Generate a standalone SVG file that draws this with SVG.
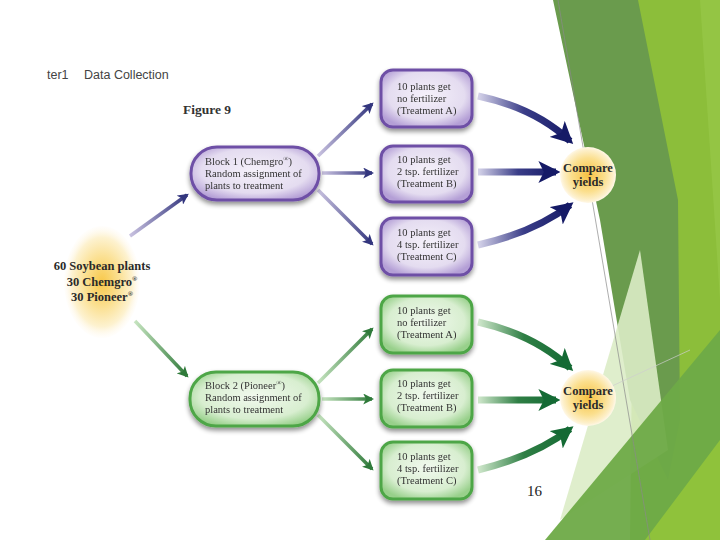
<svg xmlns="http://www.w3.org/2000/svg" width="720" height="540" viewBox="0 0 720 540">
<style>
.nt{font-family:"Liberation Serif","DejaVu Serif",serif;font-size:10.5px;fill:#333}
.bt{font-family:"Liberation Serif","DejaVu Serif",serif;font-size:12.5px;font-weight:bold;fill:#2a2a2a}
.ttl{font-family:"Liberation Sans","DejaVu Sans",sans-serif;font-size:12.5px;fill:#444}
.thinP{fill:none;stroke-width:3.5}
.thickP{fill:none;stroke-width:7}
.pb{fill:url(#gP);stroke:#6e4fa6;stroke-width:3}
.gb{fill:url(#gG);stroke:#4ea646;stroke-width:3}
</style>
<defs>
<radialGradient id="gP" cx="50%" cy="45%" r="60%">
<stop offset="0" stop-color="#f5f1fa"/><stop offset="0.7" stop-color="#e4dcf0"/><stop offset="1" stop-color="#b49fd6"/>
</radialGradient>
<radialGradient id="gG" cx="50%" cy="45%" r="60%">
<stop offset="0" stop-color="#f1f9ee"/><stop offset="0.7" stop-color="#d8eed0"/><stop offset="1" stop-color="#98d08b"/>
</radialGradient>
<radialGradient id="gY" cx="50%" cy="50%" r="50%">
<stop offset="0" stop-color="#f8c84a"/><stop offset="0.45" stop-color="#fbe092"/><stop offset="0.8" stop-color="#fdf2d0"/><stop offset="1" stop-color="#fffaf0" stop-opacity="0.2"/>
</radialGradient>
<radialGradient id="gC" cx="50%" cy="50%" r="50%">
<stop offset="0" stop-color="#f6c243"/><stop offset="0.6" stop-color="#fbdf8e"/><stop offset="0.9" stop-color="#fdf0cc"/><stop offset="1" stop-color="#fff8e8"/>
</radialGradient>
<filter id="sh" x="-20%" y="-20%" width="140%" height="150%">
<feGaussianBlur in="SourceAlpha" stdDeviation="2.5"/><feOffset dy="3" result="b"/>
<feComponentTransfer><feFuncA type="linear" slope="0.45"/></feComponentTransfer>
<feMerge><feMergeNode/><feMergeNode in="SourceGraphic"/></feMerge>
</filter>
<marker id="mP" viewBox="0 0 10 10" refX="8" refY="5" markerWidth="11" markerHeight="11" markerUnits="userSpaceOnUse" orient="auto"><path d="M0,0 L10,5 L0,10 L2.5,5 Z" fill="#33367e"/></marker>
<marker id="mG" viewBox="0 0 10 10" refX="8" refY="5" markerWidth="11" markerHeight="11" markerUnits="userSpaceOnUse" orient="auto"><path d="M0,0 L10,5 L0,10 L2.5,5 Z" fill="#2f7a3a"/></marker>
<marker id="MP" viewBox="0 0 10 10" refX="8" refY="5" markerWidth="22" markerHeight="22" markerUnits="userSpaceOnUse" orient="auto"><path d="M0,0 L10,5 L0,10 L2.5,5 Z" fill="#151a66"/></marker>
<marker id="MG" viewBox="0 0 10 10" refX="8" refY="5" markerWidth="22" markerHeight="22" markerUnits="userSpaceOnUse" orient="auto"><path d="M0,0 L10,5 L0,10 L2.5,5 Z" fill="#146a34"/></marker>
<linearGradient id="lP" x1="0" y1="0" x2="1" y2="0"><stop offset="0" stop-color="#c9c2e0"/><stop offset="1" stop-color="#33367e"/></linearGradient>
<linearGradient id="lG" x1="0" y1="0" x2="1" y2="0"><stop offset="0" stop-color="#c6e4c0"/><stop offset="1" stop-color="#2f7a3a"/></linearGradient>
<linearGradient id="lPh" gradientUnits="userSpaceOnUse" x1="322" y1="0" x2="372" y2="0"><stop offset="0" stop-color="#c9c2e0"/><stop offset="1" stop-color="#33367e"/></linearGradient>
<linearGradient id="lGh" gradientUnits="userSpaceOnUse" x1="322" y1="0" x2="372" y2="0"><stop offset="0" stop-color="#c6e4c0"/><stop offset="1" stop-color="#2f7a3a"/></linearGradient>
<linearGradient id="LP" x1="0" y1="0" x2="1" y2="0"><stop offset="0" stop-color="#d6d4ea"/><stop offset="0.5" stop-color="#3a3d88"/><stop offset="1" stop-color="#151a66"/></linearGradient>
<linearGradient id="LG" x1="0" y1="0" x2="1" y2="0"><stop offset="0" stop-color="#d0e8cc"/><stop offset="0.5" stop-color="#2f7f45"/><stop offset="1" stop-color="#146a34"/></linearGradient>
<linearGradient id="LPh" gradientUnits="userSpaceOnUse" x1="478" y1="0" x2="558" y2="0"><stop offset="0" stop-color="#d6d4ea"/><stop offset="0.5" stop-color="#3a3d88"/><stop offset="1" stop-color="#151a66"/></linearGradient>
<linearGradient id="LGh" gradientUnits="userSpaceOnUse" x1="478" y1="0" x2="558" y2="0"><stop offset="0" stop-color="#d0e8cc"/><stop offset="0.5" stop-color="#2f7f45"/><stop offset="1" stop-color="#146a34"/></linearGradient>
</defs>
<rect width="720" height="540" fill="#ffffff"/>
<g id="background">
<polygon points="636,0 720,0 720,540 630,540" fill="#8cbe3a"/>
<polygon points="700,0 720,0 720,300" fill="#94c544"/>
<polygon points="553,0 638,0 678,200 680,420 668,480 630,400 600,220" fill="#6a9b4d"/>
<polygon points="640,250 668,450 560,520" fill="#dbecc6" opacity="0.9"/>
<polygon points="545,540 720,330 720,540" fill="#6eaa47" opacity="0.95"/>
<polygon points="645,540 720,440 720,540" fill="#8fc23b"/>
<line x1="558" y1="0" x2="650" y2="540" stroke="#8a8a8a" stroke-width="0.7"/>
<line x1="612" y1="386" x2="690" y2="350" stroke="#cfcfcf" stroke-width="0.7"/>
</g>
<text class="ttl" x="47" y="79">ter1</text>
<text class="ttl" x="84" y="79">Data Collection</text>
<text x="183" y="114" style="font-family:'Liberation Serif','DejaVu Serif',serif;font-size:13.5px;font-weight:bold;fill:#333">Figure 9</text>
<g id="connectors">
<line x1="130" y1="236" x2="187" y2="195" class="thinP" stroke="url(#lP)" marker-end="url(#mP)"/>
<line x1="135" y1="321" x2="187" y2="376" class="thinP" stroke="url(#lG)" marker-end="url(#mG)"/>
<line x1="318" y1="156" x2="372" y2="104" class="thinP" stroke="url(#lP)" marker-end="url(#mP)"/>
<line x1="322" y1="173" x2="372" y2="173" class="thinP" stroke="url(#lPh)" marker-end="url(#mP)"/>
<line x1="318" y1="190" x2="372" y2="244" class="thinP" stroke="url(#lP)" marker-end="url(#mP)"/>
<line x1="318" y1="383" x2="372" y2="329" class="thinP" stroke="url(#lG)" marker-end="url(#mG)"/>
<line x1="322" y1="399" x2="372" y2="399" class="thinP" stroke="url(#lGh)" marker-end="url(#mG)"/>
<line x1="318" y1="415" x2="372" y2="469" class="thinP" stroke="url(#lG)" marker-end="url(#mG)"/>
<path d="M478,96 Q535,108 570,141" class="thickP" stroke="url(#LP)" marker-end="url(#MP)"/>
<path d="M478,172 L556,172" class="thickP" stroke="url(#LPh)" marker-end="url(#MP)"/>
<path d="M478,245 Q535,232 570,205" class="thickP" stroke="url(#LP)" marker-end="url(#MP)"/>
<path d="M478,322 Q535,335 570,368" class="thickP" stroke="url(#LG)" marker-end="url(#MG)"/>
<path d="M478,400 L556,400" class="thickP" stroke="url(#LGh)" marker-end="url(#MG)"/>
<path d="M478,470 Q535,456 570,429" class="thickP" stroke="url(#LG)" marker-end="url(#MG)"/>
</g>
<g id="source">
<ellipse cx="102" cy="282" rx="38" ry="56" fill="url(#gY)"/>
<text class="bt" x="102" y="270" text-anchor="middle">60 Soybean plants</text>
<text class="bt" x="102" y="286" text-anchor="middle">30 Chemgro<tspan font-size="7" dy="-5">®</tspan></text>
<text class="bt" x="102" y="301" text-anchor="middle">30 Pioneer<tspan font-size="7" dy="-5">®</tspan></text>
</g>
<g id="block1" filter="url(#sh)">
<rect class="pb" x="191" y="147" width="128" height="53" rx="26"/>
<text class="nt" x="205" y="165">Block 1 (Chemgro<tspan font-size="7" dy="-4">®</tspan><tspan dy="4">)</tspan></text>
<text class="nt" x="205" y="177">Random assignment of</text>
<text class="nt" x="205" y="189">plants to treatment</text>
</g>
<g id="block2" filter="url(#sh)">
<rect class="gb" x="190" y="372" width="129" height="54" rx="26"/>
<text class="nt" x="205" y="389">Block 2 (Pioneer<tspan font-size="7" dy="-4">®</tspan><tspan dy="4">)</tspan></text>
<text class="nt" x="205" y="401">Random assignment of</text>
<text class="nt" x="205" y="413">plants to treatment</text>
</g>
<g id="t1a" filter="url(#sh)">
<rect class="pb" x="381" y="70" width="91" height="57" rx="12"/>
<text class="nt" x="397" y="90">10 plants get</text>
<text class="nt" x="397" y="102">no fertilizer</text>
<text class="nt" x="397" y="114">(Treatment A)</text>
</g>
<g id="t1b" filter="url(#sh)">
<rect class="pb" x="381" y="146" width="91" height="56" rx="12"/>
<text class="nt" x="397" y="163">10 plants get</text>
<text class="nt" x="397" y="175">2 tsp. fertilizer</text>
<text class="nt" x="397" y="187">(Treatment B)</text>
</g>
<g id="t1c" filter="url(#sh)">
<rect class="pb" x="381" y="218" width="91" height="57" rx="12"/>
<text class="nt" x="397" y="236">10 plants get</text>
<text class="nt" x="397" y="248">4 tsp. fertilizer</text>
<text class="nt" x="397" y="260">(Treatment C)</text>
</g>
<g id="t2a" filter="url(#sh)">
<rect class="gb" x="381" y="296" width="91" height="57" rx="12"/>
<text class="nt" x="397" y="314">10 plants get</text>
<text class="nt" x="397" y="326">no fertilizer</text>
<text class="nt" x="397" y="338">(Treatment A)</text>
</g>
<g id="t2b" filter="url(#sh)">
<rect class="gb" x="381" y="370" width="91" height="57" rx="12"/>
<text class="nt" x="397" y="387">10 plants get</text>
<text class="nt" x="397" y="399">2 tsp. fertilizer</text>
<text class="nt" x="397" y="411">(Treatment B)</text>
</g>
<g id="t2c" filter="url(#sh)">
<rect class="gb" x="381" y="442" width="91" height="57" rx="12"/>
<text class="nt" x="397" y="460">10 plants get</text>
<text class="nt" x="397" y="472">4 tsp. fertilizer</text>
<text class="nt" x="397" y="484">(Treatment C)</text>
</g>
<g id="compare1">
<circle cx="588" cy="175" r="28" fill="url(#gC)"/>
<text class="bt" x="588" y="172" text-anchor="middle">Compare</text>
<text class="bt" x="588" y="186" text-anchor="middle">yields</text>
</g>
<g id="compare2">
<circle cx="588" cy="398" r="28" fill="url(#gC)"/>
<text class="bt" x="588" y="395" text-anchor="middle">Compare</text>
<text class="bt" x="588" y="409" text-anchor="middle">yields</text>
</g>
<text x="527" y="496" style="font-family:'Liberation Serif','DejaVu Serif',serif;font-size:15px;fill:#222">16</text>
</svg>
